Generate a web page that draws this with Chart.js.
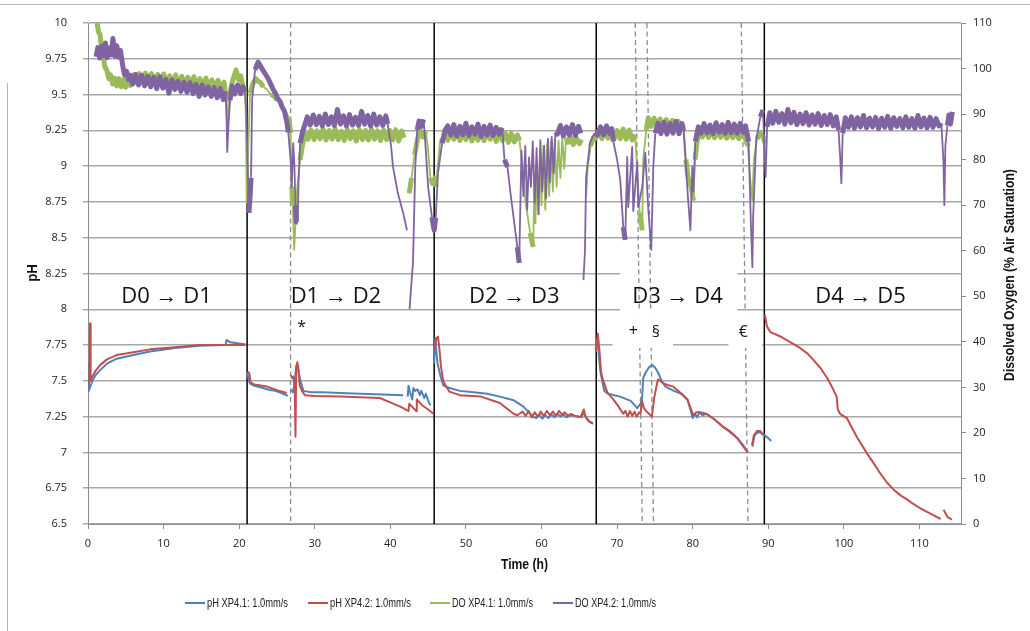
<!DOCTYPE html>
<html>
<head>
<meta charset="utf-8">
<script src="https://cdn.jsdelivr.net/npm/chart.js@4.4.1/dist/chart.umd.min.js"></script>
<style>
  html, body { margin: 0; padding: 0; background: #fff; }
  #wrap { width: 1030px; height: 631px; }
</style>
</head>
<body>
<div id="wrap"><canvas id="c" width="1030" height="631"></canvas></div>
<script>
// tick values for the three axes
const timeTicks = [0, 10, 20, 30, 40, 50, 60, 70, 80, 90, 100, 110];
const phTicks = [6.5, 6.75, 7, 7.25, 7.5, 7.75, 8, 8.25, 8.5, 8.75, 9, 9.25, 9.5, 9.75, 10];
const doTicks = [0, 10, 20, 30, 40, 50, 60, 70, 80, 90, 100, 110];

const seriesNames = ['pH XP4.1: 1.0mm/s', 'pH XP4.2: 1.0mm/s', 'DO XP4.1: 1.0mm/s', 'DO XP4.2: 1.0mm/s'];

// [time (h), pH], null = break in the trace
const phXP41 = [
  [0,7.62],[0.1,7.43],[0.3,7.46],[0.6,7.5],[1.0,7.54],[1.6,7.575],[2.5,7.62],[3.8,7.655],[6.0,7.68],[8.2,7.705],[11.5,7.73],[14.8,7.745],[18.2,7.75],
  [18.35,7.785],[18.8,7.77],[19.5,7.765],[20.2,7.76],[20.8,7.755],
  [20.9,null],
  [21.05,7.56],[21.3,7.5],[21.44,7.48],[22.0,7.465],[22.8,7.455],[23.8,7.44],[24.75,7.43],[25.6,7.415],[26.45,7.395],
  [26.6,null],
  [26.85,7.44],[27.1,7.42],[27.3,7.47],[27.55,7.6],[27.8,7.58],[28.1,7.5],[28.5,7.43],[29.5,7.42],[31,7.42],[33.4,7.415],[36,7.41],[39,7.405],[41.7,7.4],
  [41.9,null],
  [42.3,7.39],[42.4,7.465],[42.6,7.42],[42.9,7.37],[43.05,7.45],[43.3,7.43],[43.6,7.44],[43.9,7.40],[44.1,7.43],[44.5,7.38],[44.7,7.41],[45.1,7.35],[45.3,7.33],
  [45.5,null],
  [45.8,7.62],[45.95,7.80],[46.1,7.70],[46.25,7.62],[46.6,7.54],[47.0,7.47],[47.5,7.455],[49.2,7.43],[51.0,7.42],[52.8,7.41],[54.5,7.39],[56.3,7.365],[57.6,7.32],[58.9,7.25],
  [59.3,7.24],[59.7,7.265],[60.1,7.235],[60.5,7.26],[60.9,7.24],[61.3,7.265],[61.7,7.245],[62.1,7.27],[62.5,7.25],[62.9,7.265],[63.3,7.245],[63.8,7.26],[64.4,7.255],[65.0,7.25],[65.3,7.245],[65.5,7.285],[65.7,7.26],[66.2,7.22],[66.8,7.205],
  [67.0,null],
  [67.15,7.72],[67.4,7.79],[67.55,7.7],[67.8,7.56],[68.0,7.51],[68.3,7.43],[68.8,7.41],[70.4,7.39],[71.8,7.36],[72.67,7.31],[73.1,7.34],[73.3,7.37],[73.45,7.52],[73.8,7.56],[74.3,7.6],[74.65,7.61],[75.0,7.595],[75.4,7.56],[75.9,7.5],[76.4,7.46],[77.5,7.43],[78.5,7.41],[79.3,7.37],
  [79.7,7.3],[80.0,7.24],[80.3,7.27],[80.6,7.245],[80.9,7.28],[81.3,7.26],[81.8,7.27],[82.9,7.23],[84.0,7.18],[85.0,7.14],[85.9,7.1],[86.7,7.05],[87.3,7.0],
  [87.5,null],
  [87.9,7.04],[88.2,7.12],[88.6,7.14],[89.0,7.14],[89.5,7.12],[90.0,7.1],[90.4,7.08]
];

const phXP42 = [
  [0.05,7.47],[0.2,7.5],[0.27,7.9],[0.35,7.5],[0.6,7.53],[1.0,7.57],[1.6,7.61],[2.5,7.65],[3.8,7.68],[6.0,7.70],[8.2,7.72],[11.5,7.735],[14.8,7.75],[20.8,7.75],
  [20.95,null],
  [21.2,7.565],[21.35,7.55],[21.5,7.49],[22.0,7.475],[23.7,7.46],[25.0,7.435],[26.3,7.415],
  [26.6,null],
  [26.85,7.54],[27.0,7.52],[27.15,7.53],[27.35,7.45],[27.45,7.11],[27.55,7.6],[27.7,7.63],[27.85,7.58],[28.0,7.47],[28.3,7.43],[28.7,7.40],[30,7.395],[33.4,7.39],[36.0,7.385],[38.6,7.38],[40.0,7.35],[41.3,7.32],[42.4,7.29],
  [42.5,7.34],[43.4,7.29],[43.5,7.37],[44.2,7.33],[45.0,7.3],[45.7,7.27],
  [45.75,null],
  [45.85,7.72],[46.05,7.79],[46.3,7.81],[46.5,7.72],[46.7,7.60],[47.0,7.50],[47.3,7.47],[47.8,7.425],[49.2,7.40],[52.0,7.39],[54.5,7.345],[56.3,7.27],[56.8,7.26],
  [57.5,7.285],[57.9,7.255],[58.3,7.29],[58.7,7.245],[59.1,7.28],[59.5,7.25],[59.9,7.285],[60.3,7.255],[60.7,7.29],[61.1,7.26],[61.5,7.285],[61.9,7.255],[62.3,7.29],[62.7,7.265],[63.1,7.28],[63.5,7.255],[63.9,7.27],[64.4,7.255],[64.9,7.25],[65.2,7.25],[65.6,7.3],[65.8,7.255],[66.3,7.215],[66.8,7.2],
  [67.0,null],
  [67.2,7.7],[67.45,7.83],[67.65,7.72],[67.85,7.58],[68.0,7.53],[68.7,7.42],[69.5,7.37],[70.2,7.32],[70.8,7.27],[71.1,7.29],[71.4,7.25],[71.7,7.29],[72.0,7.255],[72.3,7.285],[72.6,7.25],[72.9,7.28],[73.1,7.27],[73.3,7.36],[73.55,7.31],[74.0,7.28],[74.6,7.25],[74.9,7.38],[75.4,7.51],[76.2,7.48],[77.4,7.46],[78.3,7.42],[79.3,7.37],
  [79.8,7.3],[80.1,7.26],[80.5,7.28],[80.9,7.28],[81.8,7.27],[82.9,7.23],[84.0,7.18],[85.0,7.145],[85.9,7.1],[86.7,7.04],[87.3,7.0],
  [87.5,null],
  [87.85,7.05],[88.1,7.12],[88.5,7.15],[88.95,7.15],[89.3,7.12],
  [89.45,null],
  [89.55,7.96],[89.83,7.88],[90.3,7.84],[91.6,7.81],[92.9,7.77],[94.2,7.73],[95.2,7.69],[96.0,7.645],[96.9,7.59],[97.8,7.52],[98.5,7.45],[99.05,7.39],[99.2,7.3],[99.5,7.27],[100.4,7.24],[101.0,7.18],[101.7,7.11],[102.4,7.05],[103.1,6.99],[104.0,6.92],[104.8,6.855],[105.7,6.79],[106.6,6.74],[107.5,6.70],[108.4,6.67],[109.2,6.64],[110.1,6.61],[111.0,6.585],[111.9,6.56],[112.8,6.535],
  [113.0,null],
  [113.2,6.6],[113.7,6.55],[114.3,6.53]
];

// [time (h), DO % air saturation]
const doXP41 = [
  [1.2,110],[1.4,108],[1.6,107.5],[1.8,104],[2.0,103.4],[2.2,100.5],[2.5,99.6],[2.75,97.8],[3.0,98.6],[3.25,96.6],[3.5,97.9],[3.8,96.2],[4.1,97.8],[4.4,96.0],[4.7,97.6],[5.0,95.9],[5.3,97.8],[5.6,96.3],
  [6.0,98.6],[6.4,96.9],[6.8,98.9],[7.2,96.9],[7.6,99.0],[8.0,96.7],[8.4,98.9],[8.8,96.8],[9.2,98.7],[9.6,96.6],[10.0,98.8],[10.4,96.5],[10.8,98.4],[11.2,96.6],[11.6,98.6],[12.0,96.4],[12.4,98.3],[12.8,96.2],[13.2,98.1],[13.6,96.1],[14.0,98.2],[14.4,96.1],[14.8,97.8],[15.2,95.9],[15.6,97.9],[16.0,95.8],[16.4,97.5],[16.8,95.5],[17.2,97.4],[17.6,95.6],[18.0,97.0],
  [18.3,93],[18.42,87.2],[18.6,92.5],[19.0,96.5],[19.3,98.2],[19.59,99.7],[19.9,97.6],[20.2,98.4],[20.5,96.0],[20.78,95.5],
  [20.9,88],[21.0,70.5],[21.15,80],[21.44,94.6],[21.84,96.8],[22.2,97.8],[22.5,97.2],[22.8,97.0],[23.2,96.0],[23.69,95.4],[24.2,94.3],[24.6,94.0],[25.02,93.1],[25.5,92.4],[26.08,90.8],[26.6,89.1],
  [26.8,85.8],[26.95,74],[27.1,70],[27.27,60.2],[27.45,66],[27.66,73.3],[28.06,79.9],[28.4,83.5],[28.72,85.8],
  [29.1,84.5],[29.5,86.5],[29.9,84.4],[30.3,86.3],[30.7,84.6],[31.1,86.7],[31.5,84.3],[31.9,86.4],[32.3,84.5],[32.7,86.8],[33.1,84.4],[33.5,86.2],[33.9,84.2],[34.3,86.6],[34.7,84.6],[35.1,86.3],[35.5,84.1],[35.9,86.5],[36.3,84.4],[36.7,86.4],[37.1,84.3],[37.5,86.7],[37.9,84.5],[38.3,86.3],[38.7,84.2],[39.1,86.5],[39.5,84.4],[39.9,86.4],[40.3,84.3],[40.7,86.6],[41.1,84.1],[41.5,86.3],[41.8,84.8],
  [41.9,null],
  [42.5,72.6],[42.8,76],[43.2,81],[43.6,84.5],[43.9,86.5],[44.3,85],[44.7,86.2],[45.0,82],[45.3,76],[45.55,74.8],
  [45.9,76],[46.05,74],[46.3,79],[46.6,84.3],[47.25,85.8],
  [47.6,84.3],[48.0,86.3],[48.4,84.5],[48.8,86.4],[49.2,84.2],[49.6,86.1],[50.0,84.4],[50.4,86.5],[50.8,84.1],[51.2,86.2],[51.6,84.3],[52.0,86.4],[52.4,84.2],[52.8,86.1],[53.2,84.5],[53.6,86.3],[54.0,84.0],[54.4,86.0],[54.8,84.2],[55.2,85.9],[55.6,83.8],[56.0,85.7],[56.4,83.9],[56.8,85.4],[57.1,84.2],
  [57.5,78],[57.85,71.1],[58.5,63.9],[58.9,60.8],[59.05,75],[59.2,66],[59.4,80],[59.6,68],[59.8,82],[60.0,70],[60.25,83],[60.5,69],[60.75,83.5],[61.0,72],[61.25,84],[61.5,73],[61.75,84.5],[62.0,74],[62.25,84.2],[62.5,76],[62.75,85],[63.0,78],[63.25,84.8],[63.5,83.8],
  [63.8,85.0],[64.2,83.3],[64.6,84.8],[65.0,83.5],[65.3,84.4],
  [65.45,null],
  [65.9,71.8],[66.1,78],[66.5,83],[66.85,84.8],
  [67.2,84.7],[67.6,86.5],[68.0,84.6],[68.4,86.7],[68.8,84.7],[69.2,86.6],[69.6,84.5],[70.0,86.4],[70.4,84.6],[70.8,86.7],[71.2,84.5],[71.6,86.5],[72.0,84.3],[72.4,85.5],
  [72.67,77],[73.0,68.3],[73.33,64.5],[73.45,79.9],[73.86,86.5],[74.13,89.2],[74.5,87.3],[74.9,89.1],[75.3,87.4],[75.7,88.9],[76.1,87.1],[76.5,88.8],[76.9,87.2],[77.3,88.6],[77.7,87.0],[78.1,88.4],[78.5,86.9],[78.8,87.5],
  [79.1,80],[79.4,76],[79.8,74],[80.1,71],[80.3,80],[80.6,84],[80.9,86.5],
  [81.3,85.0],[81.7,86.6],[82.1,84.9],[82.5,86.5],[82.9,84.8],[83.3,86.4],[83.7,84.9],[84.1,86.5],[84.5,84.7],[84.9,86.3],[85.3,84.8],[85.7,86.4],[86.1,84.6],[86.5,86.2],[86.9,84.9],
  [87.3,83],[87.6,76],[87.9,71.1],[88.1,80],[88.5,84.5],[88.9,86],[89.3,85],[89.6,83.5]
];

const doXP42 = [
  [1.06,102.6],[1.3,104.6],[1.55,102.3],[1.8,104.9],[2.05,102.8],[2.3,105.6],[2.55,102.4],[2.8,104.5],[3.05,103.0],[3.3,106.6],[3.55,102.7],[3.8,105.0],[4.05,102.5],[4.3,104.0],
  [4.6,100.5],[4.85,98.6],[5.1,99.4],[5.35,97.6],[5.6,98.5],
  [5.9,96.6],[6.3,98.7],[6.7,96.4],[7.1,98.5],[7.5,96.2],[7.9,98.3],[8.3,96.0],[8.7,98.1],[9.1,95.6],[9.5,98.2],[9.9,95.7],[10.3,97.6],[10.7,94.6],[11.1,97.5],[11.5,95.4],[11.9,97.2],[12.3,95.0],[12.7,97.0],[13.1,94.8],[13.5,96.9],[13.9,94.5],[14.3,96.5],[14.7,93.9],[15.1,96.4],[15.5,94.2],[15.9,96.0],[16.3,93.9],[16.7,95.8],[17.1,93.6],[17.5,95.6],[17.9,93.2],[18.2,95.0],
  [18.35,88],[18.42,81.7],[18.6,88],[18.8,93.1],[19.06,96.2],
  [19.4,94.4],[19.8,96.4],[20.2,94.5],[20.5,96.0],[20.78,94.8],
  [20.95,90],[21.1,80],[21.3,68.3],[21.45,72],[21.57,76],[21.71,93.1],[22.1,99.7],[22.5,101.4],
  [22.8,100.6],[23.16,99.6],[23.5,98.7],[23.9,97.6],[24.2,96.5],[24.5,95.4],[24.8,94.6],[25.1,93.4],[25.4,92.8],[25.7,91.5],[26.0,90.6],[26.34,88],
  [26.5,86],[26.85,79],[26.95,73.9],[27.05,79],[27.15,83.6],[27.3,79],[27.45,70],[27.55,66.3],[27.75,66.3],[27.85,75],[28.06,83.6],[28.4,86.2],[28.72,87.8],
  [29.0,89.4],[29.4,87.6],[29.8,89.8],[30.2,87.7],[30.6,89.5],[31.0,87.4],[31.4,90.0],[31.8,87.7],[32.2,89.4],[32.6,87.5],[33.0,91.0],[33.4,87.8],[33.8,89.6],[34.2,87.4],[34.6,89.9],[35.0,87.6],[35.4,89.3],[35.8,87.5],[36.2,90.6],[36.6,87.8],[37.0,89.7],[37.4,87.4],[37.8,90.0],[38.2,87.6],[38.6,89.4],[39.0,87.5],[39.4,89.6],[39.65,87.8],
  [40.1,83],[40.35,78.4],[41.0,72.6],[41.7,68.3],[42.2,64.5],
  [42.3,null],
  [42.55,47.2],[42.75,52],[43.0,57.5],[43.3,78.4],[43.55,86.5],[43.8,88.5],[44.1,87.3],[44.4,88.8],[44.6,84.3],[45.0,74],[45.5,67.4],[45.8,64.5],
  [46.0,67.2],[46.3,77],[46.85,83.6],[47.25,86.5],
  [47.6,87.4],[48.0,85.4],[48.4,87.7],[48.8,85.2],[49.2,87.3],[49.6,85.5],[50.0,88.0],[50.4,85.3],[50.8,87.2],[51.2,85.6],[51.6,87.8],[52.0,85.1],[52.4,87.3],[52.8,85.4],[53.2,87.6],[53.6,85.3],[54.0,87.1],[54.4,85.6],[54.8,87.0],
  [55.1,80],[55.5,78.4],[55.9,72.6],[56.3,67.4],[56.8,60.8],[57.05,57.3],
  [57.2,70],[57.35,82],[57.6,72],[57.85,83],[58.1,69],[58.35,80.5],[58.6,74],[58.85,84],[59.1,70.5],[59.35,82.5],[59.6,68],[59.85,84.3],[60.1,73],[60.35,83],[60.6,71.5],[60.85,84.6],[61.1,75],[61.35,85],[61.6,77],[61.85,86],
  [62.1,85.6],[62.5,87.5],[62.9,85.2],[63.3,87.2],[63.7,85.4],[64.1,87.7],[64.5,85.3],[64.9,87.3],[65.2,85.8],
  [65.35,null],
  [65.55,53.6],[65.75,60],[65.9,76.2],[66.4,83.6],[67.0,85.8],
  [67.4,85.4],[67.8,87.2],[68.2,85.5],[68.6,87.4],[69.0,85.7],[69.3,86.8],
  [69.5,84],[70.0,80],[70.42,75.5],[70.82,65.2],[71.08,62.4],[71.34,80.6],[71.47,69.6],[72.0,82.8],[72.14,68.7],[72.67,79.5],[72.8,69.6],[73.33,74],[73.73,81.5],[74.13,69],[74.52,60.2],[74.79,78.4],[75.05,85.8],
  [75.4,88.0],[75.8,85.7],[76.2,88.2],[76.6,85.6],[77.0,87.9],[77.4,85.8],[77.8,88.4],[78.2,85.7],[78.6,87.9],[78.8,86.3],
  [79.05,80],[79.4,71.1],[79.7,64.5],[79.95,78.4],[80.1,73],[80.35,84],[80.75,87.2],
  [81.1,85.8],[81.5,87.9],[81.9,85.9],[82.3,87.6],[82.7,85.7],[83.1,88.1],[83.5,86.0],[83.9,87.7],[84.3,85.8],[84.7,88.2],[85.1,85.9],[85.5,87.8],[85.9,85.8],[86.3,88.0],[86.7,86.0],[87.0,87.4],
  [87.4,84],[87.7,66],[87.9,56.4],[88.0,67.4],[88.4,84.3],[88.95,89.4],[89.3,90.9],[89.5,82],[89.65,76.2],[89.85,87.2],
  [90.2,90.3],[90.6,88.0],[91.0,90.6],[91.4,88.2],[91.8,90.1],[92.2,87.8],[92.6,91.0],[93.0,88.1],[93.4,90.4],[93.8,87.7],[94.2,90.0],[94.6,87.9],[95.0,90.3],[95.4,87.6],[95.8,89.8],[96.2,87.8],[96.6,90.1],[97.0,87.5],[97.4,89.7],[97.8,87.7],[98.2,89.9],[98.6,87.4],[99.0,89.4],
  [99.3,86.5],[99.5,81],[99.67,74.8],[99.85,85.8],
  [100.2,89.2],[100.6,87.1],[101.0,89.4],[101.4,86.9],[101.8,89.2],[102.2,87.2],[102.6,89.7],[103.0,87.0],[103.4,89.1],[103.8,87.2],[104.2,89.3],[104.6,86.8],[105.0,89.1],[105.4,87.1],[105.8,89.5],[106.2,86.9],[106.6,89.2],[107.0,87.3],[107.4,89.0],[107.8,87.0],[108.2,89.4],[108.6,87.1],[109.0,89.0],[109.4,86.9],[109.8,89.7],[110.2,87.2],[110.6,89.1],[111.0,87.0],[111.4,89.3],[111.8,87.1],[112.2,89.0],[112.6,87.4],
  [112.9,88],[113.17,80],[113.3,70],[113.43,83],[113.7,87.5],[113.9,89.8],[114.1,87.8],[114.36,90.5]
];

// phase labels and event marks (text only, placed in data units below)
const phaseLabels = ['D0 → D1', 'D1 → D2', 'D2 → D3', 'D3 → D4', 'D4 → D5'];
const eventMarks = ['*', '+', '§', '€'];

// where the annotations sit, in (hours, pH)
const notes = {
  solid: [21.05, 45.8, 67.24, 89.48],
  dashed: [[26.8, 26.8], [72.4, 73.33], [73.95, 74.82], [86.43, 87.32]], // [t at top, t at bottom]
  phaseAt: [[10.4, 8.09], [32.8, 8.09], [56.4, 8.09], [78.0, 8.09], [102.2, 8.09]],
  markAt: [[28.26, 7.87], [72.14, 7.845], [75.14, 7.84], [86.7, 7.835]],
  bigBox: [70.4, 85.9, 8.33, 7.953],
  smallBoxes: [[69.4, 77.4, 7.98, 7.73], [84.73, 89.2, 7.98, 7.73]],
};

const colors = ['#4f81bd', '#c0504d', '#9bbb59', '#8064a2'];
const tickFont = { family: "'Open Sans', sans-serif", size: 11 };
const labelFamily = "'Liberation Sans', Arial, sans-serif";

// the logged DO is noisy; short hops between neighbouring samples get a
// fatter stroke so the noise reads as a band, the big dips stay thin
const noiseWidth = c =>
  Math.abs(c.p1.parsed.x - c.p0.parsed.x) < 0.45 && Math.abs(c.p1.parsed.y - c.p0.parsed.y) < 4.2 ? 5 : 1.8;

const makeSet = (i, pairs, axis, width, order, segment) => ({
  label: seriesNames[i],
  data: pairs.map(([x, y]) => ({ x, y })),
  borderColor: colors[i],
  backgroundColor: colors[i],
  yAxisID: axis,
  borderWidth: width,
  borderJoinStyle: 'round',
  pointRadius: 0,
  tension: 0,
  spanGaps: false,
  order,
  segment,
});

function box(ctx, x, y, b) {
  const l = x.getPixelForValue(b[0]), r = x.getPixelForValue(b[1]);
  const t = y.getPixelForValue(b[2]), bt = y.getPixelForValue(b[3]);
  ctx.fillRect(l, t, r - l, bt - t);
}

// the original uses a narrow font, so squeeze text sideways a bit
function squeezed(ctx, txt, x, y, sx, rot) {
  ctx.save();
  ctx.translate(x, y);
  if (rot) ctx.rotate(rot);
  ctx.scale(sx, 1);
  ctx.fillText(txt, 0, 0);
  ctx.restore();
}

const overlay = {
  id: 'overlay',
  beforeDatasetsDraw(chart) {
    const { ctx, chartArea: a, scales: { x, y } } = chart;
    ctx.save();
    ctx.fillStyle = '#fff';
    box(ctx, x, y, notes.bigBox);

    // day boundaries
    ctx.strokeStyle = '#000';
    ctx.lineWidth = 1.5;
    notes.solid.forEach(t => {
      const px = x.getPixelForValue(t);
      ctx.beginPath(); ctx.moveTo(px, a.top); ctx.lineTo(px, a.bottom); ctx.stroke();
    });

    // events, dashed
    ctx.strokeStyle = '#8c8c8c';
    ctx.lineWidth = 1.3;
    ctx.setLineDash([5, 3.5]);
    notes.dashed.forEach(([t0, t1]) => {
      ctx.beginPath();
      ctx.moveTo(x.getPixelForValue(t0), a.top);
      ctx.lineTo(x.getPixelForValue(t1), a.bottom);
      ctx.stroke();
    });
    ctx.setLineDash([]);

    ctx.fillStyle = '#fff';
    notes.smallBoxes.forEach(b => box(ctx, x, y, b));
    ctx.restore();
  },
  afterDatasetsDraw(chart) {
    const { ctx, scales: { x, y } } = chart;
    ctx.save();
    ctx.fillStyle = '#111';
    ctx.textAlign = 'center';
    ctx.textBaseline = 'middle';
    ctx.font = "22px 'Open Sans', sans-serif";
    phaseLabels.forEach((txt, i) => {
      const [t, p] = notes.phaseAt[i];
      ctx.fillText(txt, x.getPixelForValue(t), y.getPixelForValue(p));
    });
    ctx.font = "16px 'Open Sans', sans-serif";
    eventMarks.forEach((txt, i) => {
      const [t, p] = notes.markAt[i];
      ctx.fillText(txt, x.getPixelForValue(t), y.getPixelForValue(p));
    });
    ctx.restore();
  },
  afterDraw(chart) {
    const { ctx, chartArea: a } = chart;
    ctx.save();
    // outer frame bits of the sheet
    ctx.strokeStyle = '#b4b4b4';
    ctx.lineWidth = 1;
    ctx.beginPath();
    ctx.moveTo(0, 4.5); ctx.lineTo(1030, 4.5);
    ctx.moveTo(7.5, 83); ctx.lineTo(7.5, 631);
    ctx.stroke();

    // axis titles
    ctx.fillStyle = '#111';
    ctx.textAlign = 'center';
    ctx.textBaseline = 'middle';
    ctx.font = 'bold 14px ' + labelFamily;
    squeezed(ctx, 'Time (h)', (a.left + a.right) / 2, 565, 0.87);
    squeezed(ctx, 'pH', 33, 273, 0.95, -Math.PI / 2);
    squeezed(ctx, 'Dissolved Oxygen (% Air Saturation)', 1010, 275, 0.87, -Math.PI / 2);

    // legend
    const legX = [185, 308, 430, 553];
    ctx.font = '13.5px ' + labelFamily;
    ctx.textAlign = 'left';
    ctx.lineWidth = 2;
    seriesNames.forEach((name, i) => {
      ctx.strokeStyle = colors[i];
      ctx.beginPath(); ctx.moveTo(legX[i], 603); ctx.lineTo(legX[i] + 20, 603); ctx.stroke();
      ctx.fillStyle = '#222';
      const sx = 81 / ctx.measureText(name).width;
      squeezed(ctx, name, legX[i] + 22, 603, sx);
    });
    ctx.restore();
  },
};

new Chart(document.getElementById('c'), {
  type: 'line',
  data: {
    datasets: [
      makeSet(0, phXP41, 'y', 2, 1),
      makeSet(1, phXP42, 'y', 2, 0),
      makeSet(2, doXP41, 'y2', 1.8, 3, { borderWidth: noiseWidth }),
      makeSet(3, doXP42, 'y2', 1.8, 2, { borderWidth: noiseWidth }),
    ],
  },
  options: {
    responsive: false,
    animation: false,
    devicePixelRatio: 1,
    events: [],
    layout: { padding: { top: 23, left: 0, right: 0, bottom: 0 } },
    plugins: { legend: { display: false }, tooltip: { enabled: false } },
    scales: {
      x: {
        type: 'linear', min: 0, max: 115.5,
        afterBuildTicks: s => { s.ticks = timeTicks.map(v => ({ value: v })); },
        afterFit: s => { s.height = 107; },
        grid: { drawOnChartArea: false, tickLength: 5, color: '#8c8c8c' },
        border: { color: '#8c8c8c' },
        ticks: { padding: 8, maxRotation: 0, autoSkip: false, color: '#222', font: tickFont, callback: v => String(v) },
      },
      y: {
        type: 'linear', position: 'left', min: 6.5, max: 10,
        afterBuildTicks: s => { s.ticks = phTicks.map(v => ({ value: v })); },
        afterFit: s => { s.width = 88; },
        grid: { color: '#a8a8a8', lineWidth: 1.5, tickLength: 5 },
        border: { color: '#8c8c8c' },
        ticks: { padding: 16, color: '#222', font: tickFont, callback: v => String(v) },
      },
      y2: {
        type: 'linear', position: 'right', min: 0, max: 110,
        afterBuildTicks: s => { s.ticks = doTicks.map(v => ({ value: v })); },
        afterFit: s => { s.width = 69; },
        grid: { drawOnChartArea: false, tickLength: 5, color: '#8c8c8c' },
        border: { color: '#8c8c8c' },
        ticks: { padding: 7, color: '#222', font: tickFont, callback: v => String(v) },
      },
    },
  },
  plugins: [overlay],
});
</script>
</body>
</html>
